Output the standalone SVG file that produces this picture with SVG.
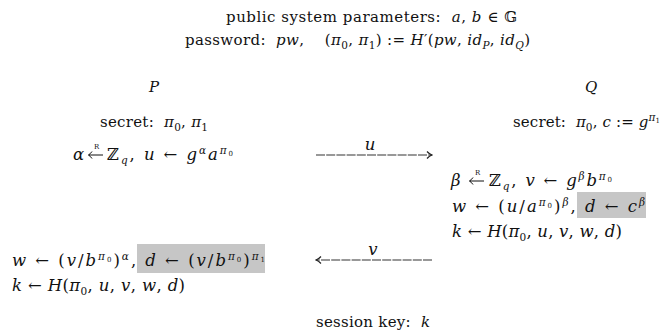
<svg xmlns="http://www.w3.org/2000/svg" width="669" height="333" viewBox="0 0 669 333">
  <defs>
    <style>
      text { font-family: "DejaVu Serif", "Liberation Serif", serif; font-size: 15px; fill: #111; }
      .m { font-style: italic; }
      .eq { font-size: 16.5px; }
      .s { font-size: 10.5px; }
      .r { font-size: 7px; }
      .hl { fill: #c6c6c6; }
      .msg { stroke: #777; stroke-width: 1.5; stroke-dasharray: 9 1.2; fill: none; }
      .samp { stroke: #111; stroke-width: 1; fill: none; }
    </style>
    <marker id="head" viewBox="0 0 10 10" refX="9" refY="5" markerWidth="10" markerHeight="10" markerUnits="userSpaceOnUse" orient="auto-start-reverse">
      <path d="M4,1.5 Q6.5,4.2 9,5 Q6.5,5.8 4,8.5" fill="none" stroke="#222" stroke-width="1.2"/>
    </marker>
    <!-- leftward arrow used for "sampled uniformly at random" -->
    <path id="larrow" class="samp" d="M0.5,0 H15 M4,-3.5 Q2,-0.8 0.5,0 Q2,0.8 4,3.5"/>
  </defs>
  <rect width="669" height="333" fill="#fff"/>

  <!-- shared parameters -->
  <g id="params">
    <text x="226" y="22" textLength="291" lengthAdjust="spacing" xml:space="preserve">public system parameters:  <tspan class="m">a</tspan>, <tspan class="m">b</tspan> ∈ 𝔾</text>
    <text x="185" y="45" textLength="345" lengthAdjust="spacing" xml:space="preserve">password:  <tspan class="m">pw</tspan>,    (<tspan class="m">π</tspan><tspan class="s" dy="4">0</tspan><tspan dy="-4">, </tspan><tspan class="m">π</tspan><tspan class="s" dy="4">1</tspan><tspan dy="-4">) := </tspan><tspan class="m">H</tspan>′(<tspan class="m">pw</tspan>, <tspan class="m">id</tspan><tspan class="s m" dy="4">P</tspan><tspan dy="-4">, </tspan><tspan class="m">id</tspan><tspan class="s m" dy="4">Q</tspan><tspan dy="-4">)</tspan></text>
  </g>

  <!-- party P -->
  <g id="party-p">
    <rect class="hl" x="137" y="244" width="128" height="29"/>
    <text x="149" y="92" class="m" font-size="17.5">P</text>
    <text x="100" y="127" textLength="108" lengthAdjust="spacing" xml:space="preserve">secret:  <tspan class="m">π</tspan><tspan class="s" dy="4">0</tspan><tspan dy="-4">, </tspan><tspan class="m">π</tspan><tspan class="s" dy="4">1</tspan></text>
    <text x="73" y="160" class="m eq">α</text>
    <use href="#larrow" x="88" y="155"/>
    <text x="94" y="149" class="r">R</text>
    <text x="107" y="160" class="eq" textLength="126" lengthAdjust="spacing" xml:space="preserve">ℤ<tspan class="s m" dy="4">q</tspan><tspan dy="-4">, </tspan><tspan class="m">u</tspan> ← <tspan class="m">g</tspan><tspan class="s m" dy="-6">α</tspan><tspan class="m" dy="6">a</tspan><tspan class="s m" dy="-6">π</tspan><tspan class="r" dy="2">0</tspan></text>
    <text x="12" y="266" class="eq" textLength="253" lengthAdjust="spacing" xml:space="preserve"><tspan class="m">w</tspan> ← (<tspan class="m">v</tspan>/<tspan class="m">b</tspan><tspan class="s m" dy="-6">π</tspan><tspan class="r" dy="2">0</tspan><tspan dy="4">)</tspan><tspan class="s m" dy="-6">α</tspan><tspan dy="6">, </tspan><tspan class="m">d</tspan> ← (<tspan class="m">v</tspan>/<tspan class="m">b</tspan><tspan class="s m" dy="-6">π</tspan><tspan class="r" dy="2">0</tspan><tspan dy="4">)</tspan><tspan class="s m" dy="-6">π</tspan><tspan class="r" dy="2">1</tspan></text>
    <text x="12" y="291" class="eq" textLength="173" lengthAdjust="spacing" xml:space="preserve"><tspan class="m">k</tspan> ← <tspan class="m">H</tspan>(<tspan class="m">π</tspan><tspan class="s" dy="4">0</tspan><tspan dy="-4">, </tspan><tspan class="m">u</tspan>, <tspan class="m">v</tspan>, <tspan class="m">w</tspan>, <tspan class="m">d</tspan>)</text>
  </g>

  <!-- party Q -->
  <g id="party-q">
    <rect class="hl" x="577" y="192" width="69" height="26"/>
    <text x="585" y="92" class="m" font-size="17.5">Q</text>
    <text x="513" y="127" textLength="147" lengthAdjust="spacing" xml:space="preserve">secret:  <tspan class="m">π</tspan><tspan class="s" dy="4">0</tspan><tspan dy="-4">, </tspan><tspan class="m">c</tspan> := <tspan class="m">g</tspan><tspan class="s m" dy="-6">π</tspan><tspan class="r" dy="2">1</tspan></text>
    <text x="451" y="186" class="m eq">β</text>
    <use href="#larrow" x="469" y="181"/>
    <text x="475" y="175" class="r">R</text>
    <text x="489" y="186" class="eq" textLength="123" lengthAdjust="spacing" xml:space="preserve">ℤ<tspan class="s m" dy="4">q</tspan><tspan dy="-4">, </tspan><tspan class="m">v</tspan> ← <tspan class="m">g</tspan><tspan class="s m" dy="-6">β</tspan><tspan class="m" dy="6">b</tspan><tspan class="s m" dy="-6">π</tspan><tspan class="r" dy="2">0</tspan></text>
    <text x="452" y="212" class="eq" textLength="193" lengthAdjust="spacing" xml:space="preserve"><tspan class="m">w</tspan> ← (<tspan class="m">u</tspan>/<tspan class="m">a</tspan><tspan class="s m" dy="-6">π</tspan><tspan class="r" dy="2">0</tspan><tspan dy="4">)</tspan><tspan class="s m" dy="-6">β</tspan><tspan dy="6">, </tspan><tspan class="m">d</tspan> ← <tspan class="m">c</tspan><tspan class="s m" dy="-6">β</tspan></text>
    <text x="452" y="237" class="eq" textLength="170" lengthAdjust="spacing" xml:space="preserve"><tspan class="m">k</tspan> ← <tspan class="m">H</tspan>(<tspan class="m">π</tspan><tspan class="s" dy="4">0</tspan><tspan dy="-4">, </tspan><tspan class="m">u</tspan>, <tspan class="m">v</tspan>, <tspan class="m">w</tspan>, <tspan class="m">d</tspan>)</text>
  </g>

  <!-- messages -->
  <g id="connectors">
    <line class="msg" x1="316" y1="155" x2="432" y2="155" marker-end="url(#head)"/>
    <text x="370" y="150" class="m eq" text-anchor="middle">u</text>
    <line class="msg" x1="432" y1="260" x2="316" y2="260" marker-end="url(#head)"/>
    <text x="373" y="255" class="m eq" text-anchor="middle">v</text>
  </g>

  <!-- result -->
  <g id="session-key">
    <text x="316" y="327" textLength="114" lengthAdjust="spacing" xml:space="preserve">session key:  <tspan class="m">k</tspan></text>
  </g>
</svg>
